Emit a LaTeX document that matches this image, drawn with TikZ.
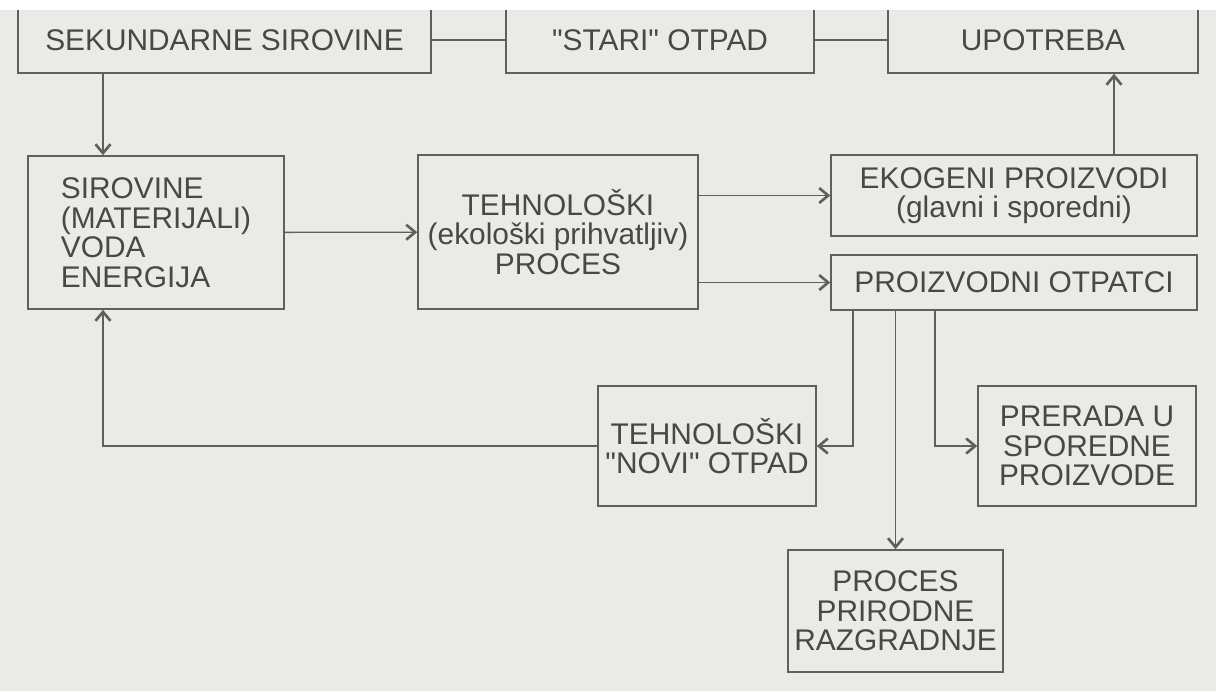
\documentclass[tikz,border=0pt]{standalone}
\usepackage{fontspec}
\setmainfont{Liberation Sans}[Ligatures=TeXOff]
\usetikzlibrary{arrows.meta}
\definecolor{paper}{RGB}{234,234,231}
\definecolor{ink}{RGB}{95,95,95}
\definecolor{txt}{RGB}{72,72,72}

\begin{document}
\begin{tikzpicture}[
  x=0.02cm, y=-0.02cm,
  every node/.style={draw=ink, line width=0.9pt, text=txt, inner sep=0pt,
    font=\fontsize{17}{16.8}\selectfont, align=center},
  link/.style={draw=ink, line width=0.75pt},
  arr/.style={link, -{Straight Barb[length=1.8mm,width=3mm,line width=1.5pt]}}
]
% scanned page
\fill[white] (0,0) rectangle (1216,691);
\fill[paper] (0,10) rectangle (1216,691);

% top row
\node[minimum width=8.26cm, minimum height=1.32cm] (sek) at (224.5,40) {SEKUNDARNE SIROVINE};
\node[minimum width=6.16cm, minimum height=1.32cm] (stari) at (660,40) {"STARI" OTPAD};
\node[minimum width=6.2cm, minimum height=1.32cm] (upo) at (1043,40) {UPOTREBA};
\fill[white] (0,0) rectangle (1216,10);

% middle row
\node[minimum width=5.12cm, minimum height=3.06cm, align=left] (sir) at (156,232.5) {SIROVINE\\(MATERIJALI)\\VODA\\ENERGIJA};
\node[minimum width=5.6cm, minimum height=3.08cm] (teh) at (558,232) {TEHNOLOŠKI\\(ekološki prihvatljiv)\\PROCES};
\node[minimum width=7.32cm, minimum height=1.62cm] (eko) at (1014,195.5) {EKOGENI PROIZVODI\\(glavni i sporedni)};
\node[minimum width=7.32cm, minimum height=1.1cm] (otp) at (1014,282.5) {PROIZVODNI OTPATCI};

% bottom rows
\node[minimum width=4.36cm, minimum height=2.4cm] (novi) at (707,446) {TEHNOLOŠKI\\"NOVI" OTPAD};
\node[minimum width=4.36cm, minimum height=2.4cm] (prer) at (1087,446) {PRERADA U\\SPOREDNE\\PROIZVODE};
\node[minimum width=4.3cm, minimum height=2.44cm] (proc) at (895.5,611) {PROCES\\PRIRODNE\\RAZGRADNJE};

% vertical tracks
\coordinate (xl) at (103,0);
\coordinate (xu) at (1114,0);
\coordinate (xn) at (853,0);
\coordinate (xp) at (935,0);

\draw[link] (sek) -- (stari);
\draw[link] (stari) -- (upo);
\draw[arr] (sek.south -| xl) -- (sir.north -| xl);
\draw[arr] (sir) -- (teh);
\draw[arr] (eko.west -| teh.east) -- (eko.west);
\draw[arr] (otp.west -| teh.east) -- (otp.west);
\draw[arr] (eko.north -| xu) -- (upo.south -| xu);
\draw[arr] (otp.south -| xn) |- (novi.east);
\draw[arr] (otp.south -| proc.north) -- (proc.north);
\draw[arr] (otp.south -| xp) |- (prer.west);
\draw[arr] (novi.west) -| (sir.south -| xl);
\end{tikzpicture}
\end{document}
